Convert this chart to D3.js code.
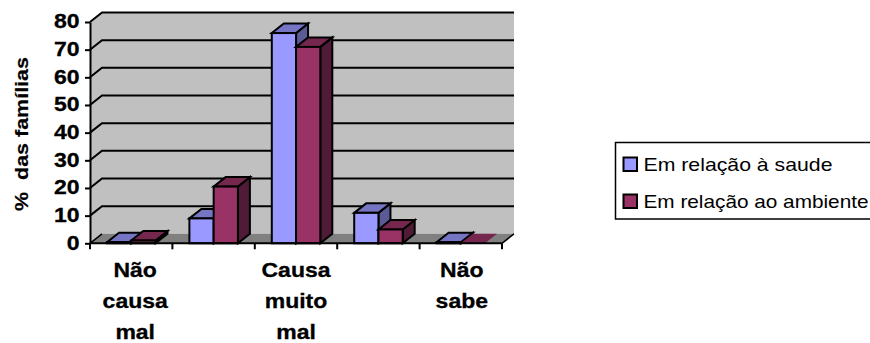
<!DOCTYPE html>
<html>
<head>
<meta charset="utf-8">
<script src="https://cdn.jsdelivr.net/npm/d3@7"></script>
<style>
html,body{margin:0;padding:0;background:#fff;overflow:hidden}
svg{display:block}
text{font-family:"Liberation Sans",Arial,sans-serif;fill:#000}
</style>
</head>
<body>
<svg id="chart" width="870" height="343"></svg>
<script>
const categories = ["Não causa mal", "Causa pouco mal", "Causa muito mal", "Causa mal", "Não sabe"];
const categoryLabels = [["Não","causa","mal"], [], ["Causa","muito","mal"], [], ["Não","sabe"]];
const saude = [0.4, 9, 76, 11, 0.4];
const ambiente = [1, 20.5, 71, 5, 0];
const seriesNames = ["Em relação à saude", "Em relação ao ambiente"];
const yTicks = [0, 10, 20, 30, 40, 50, 60, 70, 80];

const palette = [
  {face:"#9999FF", top:"#7575C4", side:"#5A5A96"},
  {face:"#993366", top:"#75274E", side:"#4F1B36"}
];
const depth = {x:12, y:-9.5};
const lineW = 2;

const svg = d3.select("#chart");
const x = d3.scaleBand().domain(categories).range([90, 502]);
const y = d3.scaleLinear().domain([0, 80]).range([243.3, 22]);
const series = d3.scaleBand().domain([0, 1]).range([0, 48.5]);
const barInset = 17;

const poly = pts => pts.map(p => p.join(",")).join(" ");

// Walls and floor of the 3D plot box
const [x0, x1] = x.range();
const yBase = y(0), yTop = y(80);
svg.append("polygon").attr("fill", "#C0C0C0")
  .attr("points", poly([[x0,yBase],[x0,yTop],[x0+depth.x,yTop+depth.y],[x1+depth.x,yTop+depth.y],[x1+depth.x,yBase+depth.y],[x0+depth.x,yBase+depth.y]]));
svg.append("polygon").attr("fill", "#808080")
  .attr("points", poly([[x0,yBase],[x0+depth.x,yBase+depth.y],[x1+depth.x,yBase+depth.y],[x1,yBase]]));

// Gridlines run up the left wall and across the back wall
yTicks.filter(t => t > 0).forEach(t => {
  svg.append("polyline").attr("fill", "none").attr("stroke", "#000").attr("stroke-width", lineW)
    .attr("points", poly([[x0,y(t)],[x0+depth.x,y(t)+depth.y],[x1+depth.x,y(t)+depth.y]]));
});
svg.append("polyline").attr("fill", "none").attr("stroke", "#000").attr("stroke-width", 1.5)
  .attr("points", poly([[x0,yBase],[x0+depth.x,yBase+depth.y]]));
svg.append("line").attr("stroke", "#000").attr("stroke-width", 1.5)
  .attr("x1", x1).attr("y1", yBase).attr("x2", x1+depth.x).attr("y2", yBase+depth.y);

// Bars: each is a front face, a lit top and a shaded side
categories.forEach((c, i) => {
  [saude, ambiente].forEach((vals, s) => {
    const v = vals[i], col = palette[s];
    const bx0 = x(c) + barInset + series(s), bx1 = bx0 + series.bandwidth();
    const by = y(v);
    const g = svg.append("g")
      .attr("stroke", v > 0 ? "#000" : "none")
      .attr("stroke-width", lineW).attr("stroke-linejoin", "miter");
    g.append("polygon").attr("fill", col.side)
      .attr("points", poly([[bx1,yBase],[bx1,by],[bx1+depth.x,by+depth.y],[bx1+depth.x,yBase+depth.y]]));
    g.append("polygon").attr("fill", col.top)
      .attr("points", poly([[bx0,by],[bx0+depth.x,by+depth.y],[bx1+depth.x,by+depth.y],[bx1,by]]));
    g.append("rect").attr("fill", col.face)
      .attr("x", bx0).attr("y", by).attr("width", bx1-bx0).attr("height", yBase-by);
  });
});

// Value axis
const yAxis = d3.axisLeft(y).tickValues(yTicks).tickSize(5).tickPadding(3).tickSizeOuter(0);
const gy = svg.append("g").attr("transform", `translate(${x0},0)`).call(yAxis);
gy.selectAll("path,line").attr("stroke", "#000").attr("stroke-width", lineW);
gy.selectAll("text").remove();
gy.selectAll(".tick").append("text")
  .attr("text-anchor", "end")
  .attr("font-size", 20).attr("font-weight", "bold")
  .attr("stroke", "#000").attr("stroke-width", 0.3)
  .attr("transform", "translate(-10.5,5.7) scale(1.15,1)")
  .text(d => d);

// Category axis: tick marks at the band edges
const edges = categories.map(c => x(c)).concat(x1);
const gx = svg.append("g").attr("stroke", "#000").attr("stroke-width", lineW);
gx.append("line").attr("x1", x0).attr("x2", x1).attr("y1", yBase).attr("y2", yBase);
gx.selectAll(".t").data(edges).join("line").attr("class", "t")
  .attr("x1", d => d).attr("x2", d => d).attr("y1", yBase).attr("y2", yBase+6);

const labelShift = [4, 0, 0, 0, 1];
categoryLabels.forEach((lines, i) => {
  const cx = x(categories[i]) + x.bandwidth()/2 + labelShift[i];
  lines.forEach((t, j) => {
    svg.append("text")
      .attr("text-anchor", "middle")
      .attr("font-size", 20).attr("font-weight", "bold")
      .attr("stroke", "#000").attr("stroke-width", 0.3)
      .attr("transform", `translate(${cx},${276.5 + j*31}) scale(1.15,1)`)
      .text(t);
  });
});

// Axis title
svg.append("text")
  .attr("text-anchor", "middle")
  .attr("font-size", 19).attr("font-weight", "bold")
  .attr("stroke", "#000").attr("stroke-width", 0.2)
  .attr("transform", "translate(28,134) rotate(-90) scale(1.13,1)")
  .style("white-space", "pre")
  .text("%  das famílias");

// Legend
svg.append("rect").attr("x", 615.5).attr("y", 142.5).attr("width", 270).attr("height", 76.5)
  .attr("fill", "#fff").attr("stroke", "#000").attr("stroke-width", 1.5);
seriesNames.forEach((name, i) => {
  const ly = 157.5 + i*37;
  svg.append("rect").attr("x", 623.5).attr("y", ly).attr("width", 13.5).attr("height", 13.5)
    .attr("fill", palette[i].face).attr("stroke", "#000").attr("stroke-width", lineW);
  svg.append("text").attr("x", 643.5).attr("y", ly + 13)
    .attr("font-size", 18.5)
    .attr("textLength", i === 0 ? 189 : 225).attr("lengthAdjust", "spacingAndGlyphs")
    .text(name);
});
</script>
</body>
</html>
